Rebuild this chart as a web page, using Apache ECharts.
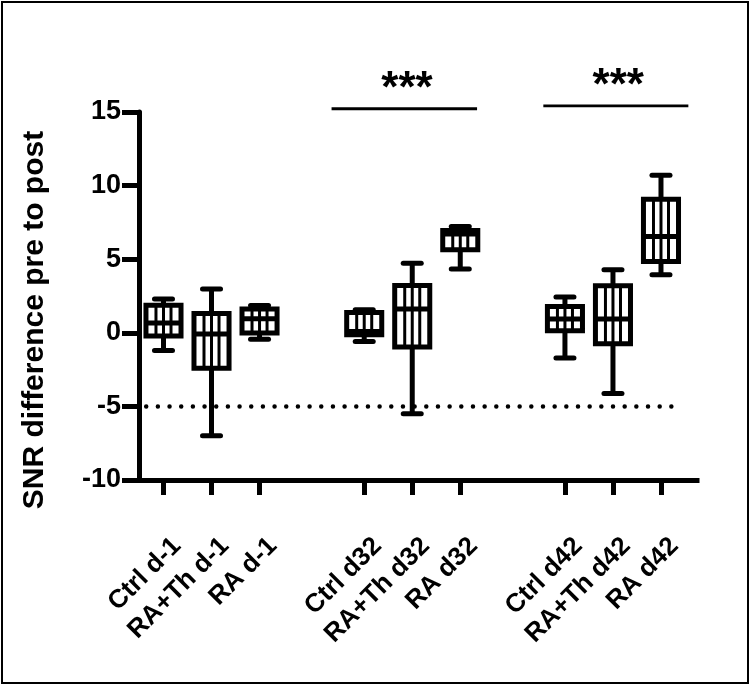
<!DOCTYPE html>
<html>
<head>
<meta charset="utf-8">
<script src="https://cdn.jsdelivr.net/npm/echarts@6/dist/echarts.min.js"></script>
<style>
  html, body { margin: 0; padding: 0; background: #fff; }
  #chart { width: 750px; height: 685px; }
</style>
</head>
<body>
<div id="chart"></div>
<script>
// ---- data ----
const categories = ['Ctrl d-1', 'RA+Th d-1', 'RA d-1', 'Ctrl d32', 'RA+Th d32', 'RA d32', 'Ctrl d42', 'RA+Th d42', 'RA d42'];
const groupIndex = [0, 0, 0, 1, 1, 1, 2, 2, 2];
const minVals = [-1.2, -7.0, -0.43, -0.59, -5.5, 4.33, -1.72, -4.12, 3.94];
const q1Vals  = [-0.22, -2.4, -0.02, -0.14, -0.97, 5.64, 0.14, -0.75, 4.84];
const medVals = [0.66, -0.08, 0.95, 0.09, 1.61, 6.72, 0.93, 0.93, 6.55];
const q3Vals  = [1.88, 1.31, 1.61, 1.38, 3.22, 6.95, 1.79, 3.19, 9.08];
const maxVals = [2.29, 2.97, 1.85, 1.56, 4.73, 7.22, 2.43, 4.28, 10.71];
const yTicks = [-10, -5, 0, 5, 10, 15];
const referenceValue = -5;
const sigLabels = ['***', '***'];
const sigLevels = [15.22, 15.42];
const yTitle = 'SNR difference pre to post';

// ---- layout ----
const GROUP_STEP = 4.18;
const positions = categories.map((c, i) => groupIndex[i] * GROUP_STEP + (i % 3));
const LABEL_SHIFT = 0.28;
const labelPositions = positions.map(p => p + LABEL_SHIFT);
const sigSpans = [[3.50, 6.53], [7.91, 10.93]];
const sigStarX = [5.07, 9.47];
const sigStarLift = 1.3;
const refSpan = [-0.36, 10.76];
const FONT = '"Liberation Sans", Arial, Helvetica, sans-serif';

const boxData = categories.map((c, i) => [positions[i], minVals[i], q1Vals[i], medVals[i], q3Vals[i], maxVals[i]]);

function renderBox(params, api) {
  const x = api.value(0);
  const unit = api.size([1, 0])[0];
  const bw = unit * 0.73;
  const cw = unit * 0.375;
  const pMin = api.coord([x, api.value(1)]);
  const pQ1 = api.coord([x, api.value(2)]);
  const pMed = api.coord([x, api.value(3)]);
  const pQ3 = api.coord([x, api.value(4)]);
  const pMax = api.coord([x, api.value(5)]);
  const cx = pMed[0];
  const left = cx - bw / 2;
  const top = pQ3[1];
  const h = pQ1[1] - pQ3[1];
  const black = '#000';
  const children = [];
  children.push({ type: 'line', shape: { x1: cx, y1: pQ3[1], x2: cx, y2: pMax[1] }, style: { stroke: black, lineWidth: 5 } });
  children.push({ type: 'line', shape: { x1: cx, y1: pQ1[1], x2: cx, y2: pMin[1] }, style: { stroke: black, lineWidth: 5 } });
  children.push({ type: 'line', shape: { x1: cx - cw / 2, y1: pMax[1], x2: cx + cw / 2, y2: pMax[1] }, style: { stroke: black, lineWidth: 5, lineCap: 'round' } });
  children.push({ type: 'line', shape: { x1: cx - cw / 2, y1: pMin[1], x2: cx + cw / 2, y2: pMin[1] }, style: { stroke: black, lineWidth: 5, lineCap: 'round' } });
  children.push({ type: 'rect', shape: { x: left, y: top, width: bw, height: h }, style: { fill: '#fff', stroke: null } });
  const innerL = left + 2.5;
  const innerW = bw - 5;
  for (let k = 1; k <= 3; k++) {
    const hx = innerL + innerW * k / 4;
    children.push({ type: 'line', shape: { x1: hx, y1: top, x2: hx, y2: top + h }, style: { stroke: black, lineWidth: 3 } });
  }
  children.push({ type: 'line', shape: { x1: left, y1: pMed[1], x2: left + bw, y2: pMed[1] }, style: { stroke: black, lineWidth: 5 } });
  children.push({ type: 'rect', shape: { x: left, y: top, width: bw, height: h }, style: { fill: null, stroke: black, lineWidth: 5 } });
  return { type: 'group', children };
}

function renderRef(params, api) {
  const a = api.coord([api.value(0), api.value(2)]);
  const b = api.coord([api.value(1), api.value(2)]);
  return {
    type: 'line',
    shape: { x1: a[0], y1: a[1], x2: b[0], y2: b[1] },
    style: { stroke: '#000', lineWidth: 4.5, lineDash: [0, 11.67], lineCap: 'round' }
  };
}

function renderSig(params, api) {
  const i = params.dataIndex;
  const a = api.coord([api.value(0), api.value(2)]);
  const b = api.coord([api.value(1), api.value(2)]);
  const s = api.coord([api.value(3), api.value(2) + sigStarLift]);
  return {
    type: 'group',
    children: [
      { type: 'line', shape: { x1: a[0], y1: a[1], x2: b[0], y2: b[1] }, style: { stroke: '#000', lineWidth: 2.8 } },
      { type: 'text', x: s[0], y: s[1], style: { text: sigLabels[i], font: 'bold 44px ' + FONT, fill: '#000', align: 'center', verticalAlign: 'middle' } }
    ]
  };
}

const chart = echarts.init(document.getElementById('chart'), null, { renderer: 'canvas' });
chart.setOption({
  animation: false,
  backgroundColor: '#fff',
  grid: { left: 139, right: 53, top: 112, bottom: 205, containLabel: false, outerBoundsMode: 'none' },
  xAxis: {
    type: 'value',
    min: -0.51,
    max: 11.11,
    splitLine: { show: false },
    axisLine: { show: true, onZero: false, lineStyle: { color: '#000', width: 5, cap: 'square' } },
    axisTick: { show: true, customValues: positions, length: 15, lineStyle: { color: '#000', width: 5 } },
    axisLabel: {
      show: true,
      customValues: labelPositions,
      rotate: 45,
      margin: 62,
      color: '#000',
      fontSize: 26,
      fontWeight: 'bold',
      fontFamily: FONT,
      formatter: function (v) {
        let best = 0, d = Infinity;
        labelPositions.forEach((p, i) => { const dd = Math.abs(p - v); if (dd < d) { d = dd; best = i; } });
        return categories[best];
      }
    }
  },
  yAxis: {
    type: 'value',
    min: yTicks[0],
    max: yTicks[yTicks.length - 1],
    interval: 5,
    splitLine: { show: false },
    axisLine: { show: true, onZero: false, lineStyle: { color: '#000', width: 5 } },
    axisTick: { show: true, length: 17, lineStyle: { color: '#000', width: 5 } },
    axisLabel: { color: '#000', fontSize: 27, fontWeight: 'bold', fontFamily: FONT, margin: 18 }
  },
  graphic: [
    { type: 'rect', shape: { x: 2, y: 2, width: 746, height: 681 }, style: { fill: null, stroke: '#000', lineWidth: 2 }, silent: true },
    { type: 'text', x: 35, y: 320, rotation: Math.PI / 2, style: { text: yTitle, font: 'bold 30px ' + FONT, fill: '#000', align: 'center', verticalAlign: 'middle' } }
  ],
  series: [
    { type: 'custom', name: 'reference', renderItem: renderRef, clip: false, data: [[refSpan[0], refSpan[1], referenceValue]], z: 1 },
    { type: 'custom', name: 'boxes', renderItem: renderBox, clip: false, data: boxData, z: 2 },
    { type: 'custom', name: 'significance', renderItem: renderSig, clip: false,
      data: sigSpans.map((s, i) => [s[0], s[1], sigLevels[i], sigStarX[i]]), z: 3 }
  ]
});
</script>
</body>
</html>
